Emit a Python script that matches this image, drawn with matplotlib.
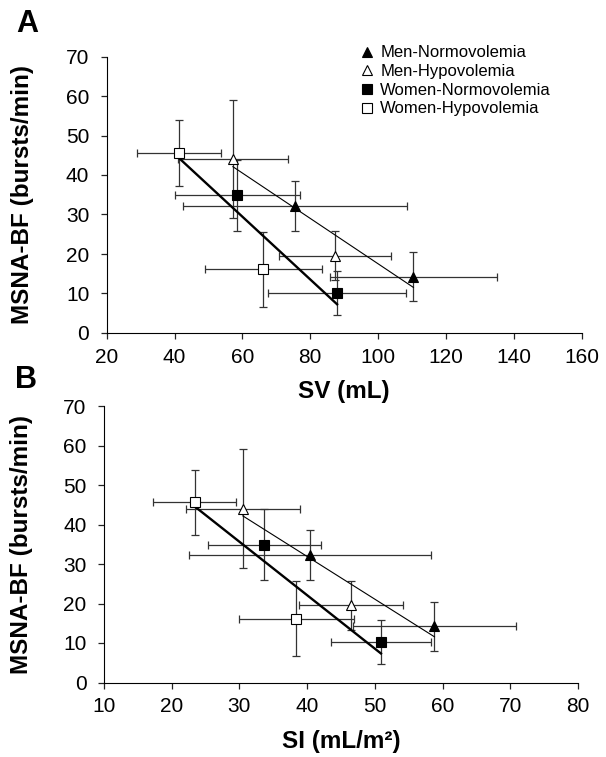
import numpy as np
import matplotlib
matplotlib.use('Agg')
import matplotlib.pyplot as plt
from matplotlib.lines import Line2D

plt.rcParams['font.family'] = ['Liberation Sans', 'DejaVu Sans']

# groups, each measured twice (two points per group)
group_names = ['Men-Normovolemia', 'Men-Hypovolemia', 'Women-Normovolemia', 'Women-Hypovolemia']
group_markers = ['^', '^', 's', 's']
group_faces = ['black', 'white', 'black', 'white']

# MSNA burst frequency (bursts/min), mean and SD
msna_mean = [[32.2, 14.3], [44.0, 19.6], [34.9, 10.2], [45.6, 16.1]]
msna_sd = [[6.3, 6.2], [15.0, 6.2], [9.0, 5.6], [8.3, 9.5]]

# stroke volume (mL)
sv_mean = [[75.4, 110.4], [57.2, 87.3], [58.5, 87.9], [41.2, 66.2]]
sv_sd = [[33.0, 24.7], [16.2, 16.4], [18.5, 20.3], [12.4, 17.2]]

# stroke index (mL/m2)
si_mean = [[40.4, 58.8], [30.5, 46.5], [33.7, 50.9], [23.4, 38.4]]
si_sd = [[17.9, 12.1], [8.4, 7.7], [8.3, 7.4], [6.1, 8.5]]

# which groups go in each regression line
men_idx = [0, 1]
women_idx = [2, 3]

fig = plt.figure(figsize=(6.06, 7.57), dpi=100)
ax_a = fig.add_axes([106.7 / 606, 1 - 333 / 757, 475 / 606, 276.5 / 757])
ax_b = fig.add_axes([104 / 606, 1 - 682.5 / 757, 474 / 606, 276.5 / 757])


def fit_line(ax, xs, ys, lw):
    x = np.concatenate(xs)
    y = np.concatenate(ys)
    slope, icpt = np.polyfit(x, y, 1)
    xe = np.array([x.min(), x.max()])
    ax.plot(xe, icpt + slope * xe, color='black', lw=lw, zorder=3)


def draw_panel(ax, xm, xsd, xlim, xticks, xlabel, ylab_x, xlab_y):
    for i in range(4):
        ax.errorbar(xm[i], msna_mean[i], xerr=xsd[i], yerr=msna_sd[i],
                    fmt='none', ecolor='#333333', elinewidth=0.9,
                    capsize=3, capthick=0.9, zorder=2)
    fit_line(ax, [xm[i] for i in women_idx], [msna_mean[i] for i in women_idx], 1.7)
    fit_line(ax, [xm[i] for i in men_idx], [msna_mean[i] for i in men_idx], 0.8)
    for i in range(4):
        ms = 7.5 if group_markers[i] == '^' else 6.5
        ax.plot(xm[i], msna_mean[i], linestyle='none', marker=group_markers[i],
                markersize=ms, markerfacecolor=group_faces[i],
                markeredgecolor='black', markeredgewidth=0.8, zorder=4)
    ax.set_xlim(xlim)
    ax.set_ylim(0, 70)
    ax.set_xticks(xticks)
    ax.set_yticks(range(0, 71, 10))
    ax.spines['top'].set_visible(False)
    ax.spines['right'].set_visible(False)
    ax.tick_params(direction='out', length=4.5, width=0.9, labelsize=15, color='#222222')
    ax.tick_params(axis='x', pad=6)
    ax.tick_params(axis='y', pad=8)
    ax.set_xlabel(xlabel, fontsize=17.5, fontweight='bold', va='center')
    ax.set_ylabel('MSNA-BF (bursts/min)', fontsize=17.5, fontweight='bold', va='center')
    ax.xaxis.set_label_coords(0.5, xlab_y)
    ax.yaxis.set_label_coords(ylab_x, 0.5)


draw_panel(ax_a, sv_mean, sv_sd, (20, 160), range(20, 161, 20), 'SV (mL)', -0.178, -0.21)
draw_panel(ax_b, si_mean, si_sd, (10, 80), range(10, 81, 10), 'SI (mL/m\u00b2)', -0.173, -0.215)

fig.text(16 / 606, 1 - 32 / 757, 'A', fontsize=22, fontweight='bold')
fig.text(15 / 606, 1 - 388 / 757, 'B', fontsize=22, fontweight='bold')

handles = []
for i in range(4):
    ms = 7.5 if group_markers[i] == '^' else 6.5
    handles.append(Line2D([], [], linestyle='none', marker=group_markers[i], markersize=ms,
                          markerfacecolor=group_faces[i], markeredgecolor='black',
                          markeredgewidth=0.8))
fig.legend(handles, group_names, loc='upper left', bbox_to_anchor=(350 / 606, 1 - 37 / 757),
           frameon=False, fontsize=12, handlelength=1.0, handletextpad=0.32,
           borderpad=0, labelspacing=0.22)

fig.savefig('out.png', dpi=100)
